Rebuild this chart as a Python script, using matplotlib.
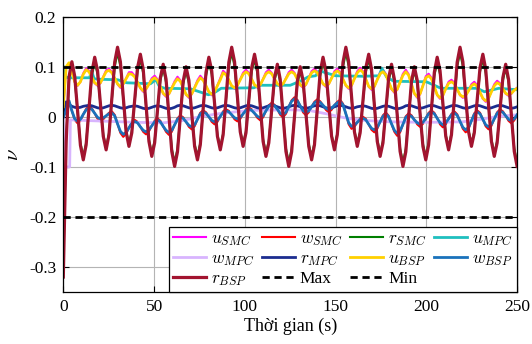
import numpy as np
import matplotlib
matplotlib.use("Agg")
import matplotlib.pyplot as plt
from matplotlib.ticker import FuncFormatter

plt.rcParams['font.family'] = ['Liberation Serif', 'DejaVu Serif']
plt.rcParams['mathtext.fontset'] = 'cm'

# ---------------- data ----------------
t = np.linspace(0, 250, 160)

r_BSP = [
    -0.320, -0.050, 0.080, 0.110, 0.081, 0.012, -0.057, -0.086,
    -0.056, 0.017, 0.089, 0.119, 0.092, 0.027, -0.039, -0.066,
    -0.036, 0.037, 0.109, 0.139, 0.110, 0.040, -0.030, -0.059,
    -0.032, 0.033, 0.098, 0.125, 0.095, 0.023, -0.049, -0.079,
    -0.052, 0.013, 0.078, 0.105, 0.075, 0.003, -0.069, -0.099,
    -0.070, 0.001, 0.071, 0.100, 0.073, 0.007, -0.059, -0.086,
    -0.056, 0.017, 0.089, 0.119, 0.092, 0.027, -0.039, -0.066,
    -0.036, 0.037, 0.109, 0.139, 0.110, 0.040, -0.030, -0.059,
    -0.032, 0.033, 0.098, 0.125, 0.095, 0.023, -0.049, -0.079,
    -0.052, 0.013, 0.078, 0.105, 0.075, 0.003, -0.069, -0.099,
    -0.070, 0.001, 0.071, 0.100, 0.073, 0.007, -0.059, -0.086,
    -0.056, 0.017, 0.089, 0.119, 0.092, 0.027, -0.039, -0.066,
    -0.036, 0.037, 0.109, 0.139, 0.110, 0.040, -0.030, -0.059,
    -0.032, 0.033, 0.098, 0.125, 0.095, 0.023, -0.049, -0.079,
    -0.052, 0.013, 0.078, 0.105, 0.075, 0.003, -0.069, -0.099,
    -0.070, 0.001, 0.071, 0.100, 0.073, 0.007, -0.059, -0.086,
    -0.056, 0.017, 0.089, 0.119, 0.092, 0.027, -0.039, -0.066,
    -0.036, 0.037, 0.109, 0.139, 0.110, 0.040, -0.030, -0.059,
    -0.032, 0.033, 0.098, 0.125, 0.095, 0.023, -0.049, -0.079,
    -0.052, 0.013, 0.078, 0.105, 0.075, 0.003, -0.069, -0.099,
]

r_SMC = [
    -0.300, -0.045, 0.072, 0.100, 0.075, 0.011, -0.052, -0.079,
    -0.052, 0.016, 0.082, 0.109, 0.085, 0.025, -0.036, -0.061,
    -0.033, 0.034, 0.100, 0.128, 0.101, 0.037, -0.028, -0.054,
    -0.029, 0.030, 0.090, 0.115, 0.087, 0.021, -0.045, -0.073,
    -0.048, 0.012, 0.072, 0.097, 0.069, 0.003, -0.063, -0.091,
    -0.064, 0.001, 0.065, 0.092, 0.067, 0.006, -0.054, -0.079,
    -0.052, 0.016, 0.082, 0.109, 0.085, 0.025, -0.036, -0.061,
    -0.033, 0.034, 0.100, 0.128, 0.101, 0.037, -0.028, -0.054,
    -0.029, 0.030, 0.090, 0.115, 0.087, 0.021, -0.045, -0.073,
    -0.048, 0.012, 0.072, 0.097, 0.069, 0.003, -0.063, -0.091,
    -0.064, 0.001, 0.065, 0.092, 0.067, 0.006, -0.054, -0.079,
    -0.052, 0.016, 0.082, 0.109, 0.085, 0.025, -0.036, -0.061,
    -0.033, 0.034, 0.100, 0.128, 0.101, 0.037, -0.028, -0.054,
    -0.029, 0.030, 0.090, 0.115, 0.087, 0.021, -0.045, -0.073,
    -0.048, 0.012, 0.072, 0.097, 0.069, 0.003, -0.063, -0.091,
    -0.064, 0.001, 0.065, 0.092, 0.067, 0.006, -0.054, -0.079,
    -0.052, 0.016, 0.082, 0.109, 0.085, 0.025, -0.036, -0.061,
    -0.033, 0.034, 0.100, 0.128, 0.101, 0.037, -0.028, -0.054,
    -0.029, 0.030, 0.090, 0.115, 0.087, 0.021, -0.045, -0.073,
    -0.048, 0.012, 0.072, 0.097, 0.069, 0.003, -0.063, -0.091,
]

u_BSP = [
    0.020, 0.100, 0.108, 0.090, 0.070, 0.063, 0.070, 0.085,
    0.094, 0.090, 0.079, 0.068, 0.064, 0.068, 0.079, 0.090,
    0.093, 0.088, 0.077, 0.066, 0.060, 0.066, 0.076, 0.086,
    0.085, 0.080, 0.069, 0.058, 0.052, 0.056, 0.065, 0.074,
    0.078, 0.073, 0.060, 0.047, 0.042, 0.046, 0.057, 0.068,
    0.076, 0.071, 0.058, 0.045, 0.040, 0.046, 0.058, 0.070,
    0.078, 0.073, 0.062, 0.050, 0.045, 0.050, 0.062, 0.074,
    0.088, 0.084, 0.073, 0.062, 0.058, 0.063, 0.074, 0.085,
    0.090, 0.086, 0.075, 0.064, 0.060, 0.064, 0.075, 0.086,
    0.090, 0.086, 0.076, 0.066, 0.062, 0.066, 0.076, 0.086,
    0.090, 0.086, 0.075, 0.064, 0.060, 0.065, 0.077, 0.088,
    0.092, 0.088, 0.077, 0.066, 0.062, 0.066, 0.077, 0.088,
    0.092, 0.087, 0.075, 0.063, 0.058, 0.063, 0.076, 0.088,
    0.094, 0.089, 0.075, 0.061, 0.056, 0.061, 0.074, 0.086,
    0.090, 0.084, 0.070, 0.056, 0.050, 0.055, 0.069, 0.083,
    0.090, 0.083, 0.065, 0.047, 0.040, 0.046, 0.062, 0.078,
    0.082, 0.076, 0.060, 0.044, 0.038, 0.043, 0.056, 0.067,
    0.070, 0.066, 0.055, 0.044, 0.040, 0.043, 0.052, 0.062,
    0.066, 0.061, 0.049, 0.037, 0.032, 0.037, 0.050, 0.062,
    0.068, 0.065, 0.056, 0.047, 0.044, 0.047, 0.053, 0.057,
]

u_SMC = [
    0.020, 0.098, 0.106, 0.090, 0.070, 0.062, 0.070, 0.087,
    0.097, 0.092, 0.079, 0.067, 0.062, 0.067, 0.080, 0.093,
    0.096, 0.090, 0.077, 0.065, 0.058, 0.065, 0.077, 0.089,
    0.089, 0.082, 0.069, 0.057, 0.050, 0.055, 0.066, 0.077,
    0.082, 0.075, 0.060, 0.046, 0.040, 0.045, 0.058, 0.071,
    0.080, 0.073, 0.058, 0.044, 0.038, 0.045, 0.059, 0.073,
    0.082, 0.075, 0.062, 0.049, 0.043, 0.049, 0.063, 0.077,
    0.092, 0.086, 0.073, 0.061, 0.056, 0.062, 0.075, 0.088,
    0.094, 0.088, 0.075, 0.063, 0.058, 0.063, 0.076, 0.089,
    0.094, 0.088, 0.076, 0.065, 0.060, 0.065, 0.077, 0.089,
    0.094, 0.088, 0.075, 0.063, 0.058, 0.064, 0.078, 0.091,
    0.096, 0.090, 0.077, 0.065, 0.060, 0.065, 0.078, 0.091,
    0.096, 0.089, 0.075, 0.062, 0.056, 0.062, 0.077, 0.091,
    0.098, 0.091, 0.075, 0.060, 0.054, 0.060, 0.075, 0.089,
    0.094, 0.086, 0.070, 0.055, 0.048, 0.054, 0.070, 0.086,
    0.094, 0.085, 0.065, 0.046, 0.038, 0.045, 0.063, 0.081,
    0.086, 0.078, 0.060, 0.043, 0.036, 0.042, 0.057, 0.070,
    0.074, 0.068, 0.055, 0.043, 0.038, 0.042, 0.053, 0.065,
    0.070, 0.063, 0.049, 0.036, 0.030, 0.036, 0.051, 0.065,
    0.072, 0.067, 0.056, 0.046, 0.042, 0.046, 0.054, 0.058,
]

r_MPC = [
    0.000, 0.030, 0.025, 0.021, 0.019, 0.018, 0.019, 0.021,
    0.022, 0.023, 0.022, 0.020, 0.018, 0.017, 0.018, 0.020,
    0.022, 0.023, 0.022, 0.020, 0.018, 0.017, 0.018, 0.020,
    0.021, 0.022, 0.021, 0.019, 0.017, 0.016, 0.017, 0.019,
    0.021, 0.022, 0.021, 0.019, 0.017, 0.016, 0.017, 0.019,
    0.022, 0.023, 0.022, 0.020, 0.018, 0.017, 0.018, 0.020,
    0.022, 0.023, 0.022, 0.020, 0.018, 0.017, 0.018, 0.020,
    0.022, 0.023, 0.022, 0.020, 0.018, 0.017, 0.018, 0.020,
    0.022, 0.023, 0.022, 0.020, 0.018, 0.017, 0.018, 0.020,
    0.022, 0.023, 0.022, 0.020, 0.018, 0.017, 0.018, 0.020,
    0.022, 0.023, 0.022, 0.020, 0.018, 0.017, 0.018, 0.020,
    0.022, 0.023, 0.022, 0.020, 0.018, 0.017, 0.018, 0.020,
    0.022, 0.023, 0.022, 0.020, 0.018, 0.017, 0.018, 0.020,
    0.021, 0.022, 0.021, 0.019, 0.017, 0.016, 0.017, 0.019,
    0.021, 0.022, 0.021, 0.019, 0.017, 0.016, 0.017, 0.019,
    0.022, 0.023, 0.022, 0.020, 0.018, 0.017, 0.018, 0.020,
    0.022, 0.023, 0.022, 0.020, 0.018, 0.017, 0.018, 0.020,
    0.022, 0.023, 0.022, 0.020, 0.018, 0.017, 0.018, 0.020,
    0.022, 0.023, 0.022, 0.020, 0.018, 0.017, 0.018, 0.020,
    0.022, 0.023, 0.022, 0.020, 0.018, 0.017, 0.018, 0.020,
]

w_BSP = [
    0.000, 0.012, 0.032, 0.012, -0.004, -0.009, -0.005, 0.005,
    0.014, 0.018, 0.015, 0.007, -0.001, -0.004, -0.002, 0.002,
    0.006, 0.008, 0.002, -0.014, -0.029, -0.035, -0.031, -0.022,
    -0.013, -0.009, -0.012, -0.020, -0.027, -0.030, -0.026, -0.018,
    -0.010, -0.006, -0.010, -0.019, -0.027, -0.031, -0.027, -0.016,
    -0.005, 0.000, -0.003, -0.010, -0.017, -0.020, -0.016, -0.005,
    0.006, 0.010, 0.007, 0.000, -0.007, -0.010, -0.007, 0.001,
    0.009, 0.012, 0.010, 0.004, -0.002, -0.004, -0.001, 0.006,
    0.013, 0.016, 0.013, 0.007, 0.001, -0.002, 0.002, 0.012,
    0.021, 0.025, 0.022, 0.015, 0.007, 0.004, 0.009, 0.020,
    0.031, 0.036, 0.032, 0.022, 0.012, 0.008, 0.012, 0.020,
    0.028, 0.032, 0.029, 0.023, 0.017, 0.014, 0.017, 0.023,
    0.028, 0.031, 0.024, 0.006, -0.012, -0.019, -0.017, -0.011,
    -0.005, -0.003, -0.006, -0.015, -0.023, -0.026, -0.021, -0.010,
    0.001, 0.006, 0.000, -0.014, -0.027, -0.033, -0.028, -0.015,
    -0.001, 0.004, 0.001, -0.006, -0.012, -0.015, -0.011, -0.003,
    0.006, 0.010, 0.006, -0.003, -0.012, -0.016, -0.012, -0.004,
    0.004, 0.008, 0.003, -0.009, -0.021, -0.026, -0.021, -0.008,
    0.005, 0.010, 0.006, -0.005, -0.016, -0.020, -0.015, -0.004,
    0.007, 0.012, 0.009, 0.002, -0.005, -0.008, -0.004, 0.004,
]

w_SMC = [
    0.000, 0.014, 0.030, 0.012, -0.006, -0.013, -0.008, 0.005,
    0.016, 0.021, 0.017, 0.007, -0.004, -0.009, -0.005, 0.002,
    0.008, 0.011, 0.004, -0.014, -0.032, -0.040, -0.034, -0.022,
    -0.011, -0.006, -0.010, -0.020, -0.030, -0.035, -0.029, -0.018,
    -0.008, -0.003, -0.008, -0.019, -0.030, -0.036, -0.030, -0.016,
    -0.003, 0.003, -0.001, -0.010, -0.020, -0.025, -0.019, -0.005,
    0.008, 0.013, 0.009, 0.000, -0.010, -0.015, -0.010, 0.001,
    0.011, 0.015, 0.012, 0.004, -0.005, -0.009, -0.004, 0.006,
    0.015, 0.019, 0.015, 0.007, -0.002, -0.007, -0.001, 0.012,
    0.023, 0.028, 0.024, 0.015, 0.004, -0.001, 0.006, 0.020,
    0.033, 0.039, 0.034, 0.022, 0.009, 0.003, 0.009, 0.020,
    0.030, 0.035, 0.031, 0.023, 0.014, 0.009, 0.014, 0.023,
    0.030, 0.034, 0.026, 0.006, -0.015, -0.024, -0.020, -0.011,
    -0.003, 0.000, -0.004, -0.015, -0.026, -0.031, -0.024, -0.010,
    0.003, 0.009, 0.002, -0.014, -0.030, -0.038, -0.031, -0.015,
    0.001, 0.007, 0.003, -0.006, -0.015, -0.020, -0.014, -0.003,
    0.008, 0.013, 0.008, -0.003, -0.015, -0.021, -0.015, -0.004,
    0.006, 0.011, 0.005, -0.009, -0.024, -0.031, -0.024, -0.008,
    0.007, 0.013, 0.008, -0.005, -0.019, -0.025, -0.018, -0.004,
    0.009, 0.015, 0.011, 0.002, -0.008, -0.013, -0.007, 0.004,
]

t_uMPC = [0, 0.5, 3, 14.5, 15.5, 17, 20, 30, 35, 48, 51, 53, 56, 70, 75, 80,
          84, 87, 105, 108, 125, 131, 135, 139, 141, 150, 165, 174, 175.5,
          178, 182, 200, 205, 208, 228, 232, 240, 250]
u_MPC = [0.100, 0.080, 0.078, 0.078, 0.092, 0.076, 0.075, 0.074, 0.068, 0.066,
         0.074, 0.060, 0.057, 0.056, 0.050, 0.044, 0.050, 0.057, 0.058, 0.063,
         0.063, 0.072, 0.080, 0.082, 0.092, 0.082, 0.081, 0.082, 0.097, 0.080,
         0.071, 0.070, 0.062, 0.057, 0.057, 0.050, 0.057, 0.054]

t_wMPC = [0, 0.3, 3.5, 3.9, 10, 25, 40, 55, 65, 75, 85, 95, 105, 125, 135,
          145, 155, 165, 180, 200, 220, 230, 240, 250]
w_MPC = [0.000, -0.100, -0.100, -0.006, -0.007, -0.009, -0.011, -0.012,
         -0.008, 0.000, 0.006, 0.010, 0.013, 0.014, 0.013, 0.006, -0.002,
         -0.007, -0.010, -0.011, -0.010, -0.005, 0.001, 0.004]

v_max = 0.1
v_min = -0.2

x_ticks = [0, 50, 100, 150, 200, 250]
y_ticks = [-0.3, -0.2, -0.1, 0, 0.1, 0.2]

# ---------------- figure ----------------
fig = plt.figure(figsize=(5.32, 3.44), dpi=100)
ax = fig.add_axes([0.119, 0.151, 0.853, 0.8005])

h = {}
h['uSMC'], = ax.plot(t, u_SMC, color='#ff00ff', lw=1.5, label=r'$u_{SMC}$')
h['wSMC'], = ax.plot(t, w_SMC, color='#ff0000', lw=1.5, label=r'$w_{SMC}$')
h['rSMC'], = ax.plot(t, r_SMC, color='#007f00', lw=1.5, label=r'$r_{SMC}$')
h['uMPC'], = ax.plot(t_uMPC, u_MPC, color='#1fbfbf', lw=2.0, label=r'$u_{MPC}$')
h['wMPC'], = ax.plot(t_wMPC, w_MPC, color='#d8b4fe', lw=2.0, label=r'$w_{MPC}$')
h['rMPC'], = ax.plot(t, r_MPC, color='#1c2d8f', lw=2.0, label=r'$r_{MPC}$')
h['uBSP'], = ax.plot(t, u_BSP, color='#ffd000', lw=2.0, label=r'$u_{BSP}$')
h['wBSP'], = ax.plot(t, w_BSP, color='#1a72bb', lw=2.0, label=r'$w_{BSP}$')
h['rBSP'], = ax.plot(t, r_BSP, color='#a2142f', lw=2.3, label=r'$r_{BSP}$')
h['max'], = ax.plot([0, 250], [v_max, v_max], color='black', lw=2.0,
                    dashes=(2.6, 1.7), label='Max')
h['min'], = ax.plot([0, 250], [v_min, v_min], color='black', lw=2.0,
                    dashes=(2.6, 1.7), label='Min')

ax.set_xlim(0, 250)
ax.set_ylim(-0.35, 0.2)
ax.set_xticks(x_ticks)
ax.set_yticks(y_ticks)
ax.yaxis.set_major_formatter(FuncFormatter(lambda v, p: '%g' % round(v, 2)))
ax.grid(True, color='#b4b4b4', lw=0.8)
ax.set_axisbelow(True)
ax.tick_params(direction='in', length=4, width=0.8, top=True, right=True,
               labelsize=12.5, pad=5)
for s in ax.spines.values():
    s.set_linewidth(0.9)
    s.set_color('black')

ax.set_xlabel('Thời gian (s)', fontsize=13, labelpad=2)
ax.set_ylabel(r'$\nu$', fontsize=15, labelpad=4)

order = ['uSMC', 'wMPC', 'rBSP', 'wSMC', 'rMPC', 'max', 'rSMC', 'uBSP',
         'min', 'uMPC', 'wBSP']
leg = ax.legend([h[k] for k in order], [h[k].get_label() for k in order],
                ncol=4, loc='lower right', borderaxespad=0, fancybox=False,
                edgecolor='black', framealpha=1, fontsize=12.5,
                handlelength=1.9, handletextpad=0.3, columnspacing=0.42,
                labelspacing=0.15, borderpad=0.25)
leg.get_frame().set_linewidth(0.9)

fig.savefig('out.png', dpi=100)
